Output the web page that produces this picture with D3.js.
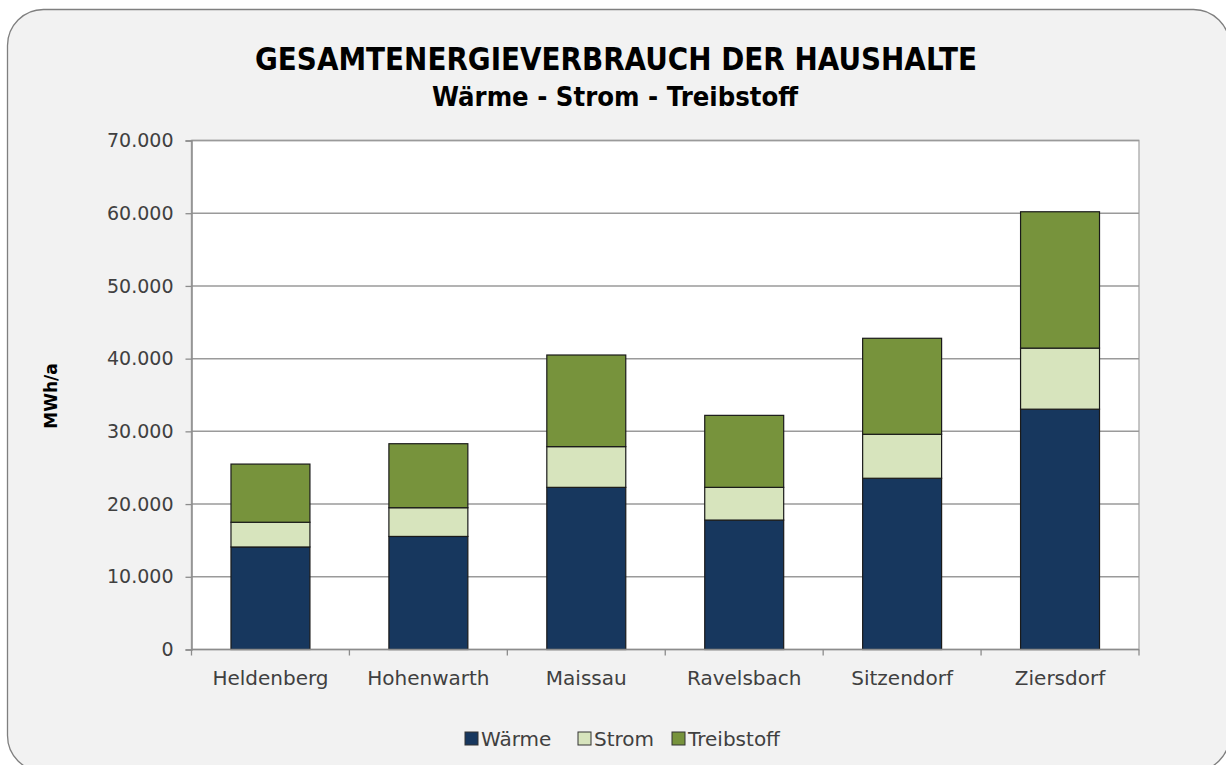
<!DOCTYPE html>
<html>
<head>
<meta charset="utf-8">
<script src="https://cdn.jsdelivr.net/npm/d3@7"></script>
<style>
  body { margin: 0; background: #ffffff; }
  text { font-family: "DejaVu Sans", sans-serif; }
</style>
</head>
<body>
<div id="chart"></div>
<script>
// data (MWh/a)
const gemeinden = ["Heldenberg", "Hohenwarth", "Maissau", "Ravelsbach", "Sitzendorf", "Ziersdorf"];
const waerme     = [14100, 15550, 22300, 17800, 23550, 33050];
const strom      = [3400, 3950, 5600, 4500, 6050, 8400];
const treibstoff = [8000, 8800, 12600, 9900, 13200, 18750];
const serien = ["Wärme", "Strom", "Treibstoff"];
const farben = ["#17375e", "#d7e4bd", "#77933c"];
const yTicks = [0, 10000, 20000, 30000, 40000, 50000, 60000, 70000];

const W = 1226, H = 765;
const margin = { left: 191.5, right: 87, top: 140.5, bottom: 115.5 };

const rows = gemeinden.map(function(g, i) {
  return { name: g, "Wärme": waerme[i], "Strom": strom[i], "Treibstoff": treibstoff[i] };
});

const svg = d3.select("#chart").append("svg")
  .attr("width", W)
  .attr("height", H);

// outer rounded frame
svg.append("rect")
  .attr("x", 7.5).attr("y", 9.5)
  .attr("width", 1222).attr("height", 762)
  .attr("rx", 36).attr("ry", 36)
  .attr("fill", "#f2f2f2")
  .attr("stroke", "#7f7f7f")
  .attr("stroke-width", 1.3);

const x = d3.scaleBand()
  .domain(gemeinden)
  .range([margin.left, W - margin.right])
  .paddingInner(0.5)
  .paddingOuter(0.25);

const y = d3.scaleLinear()
  .domain([0, 70000])
  .range([H - margin.bottom - 0.5 + 0.5, margin.top]);

// plot area
svg.append("rect")
  .attr("x", margin.left).attr("y", margin.top)
  .attr("width", W - margin.right - margin.left)
  .attr("height", y(0) - margin.top)
  .attr("fill", "#ffffff")
  .attr("stroke", "#b3b3b3")
  .attr("stroke-width", 1.5);

// gridlines
svg.append("g")
  .selectAll("line")
  .data(yTicks.filter(function(d) { return d > 0; }))
  .enter().append("line")
  .attr("x1", margin.left).attr("x2", W - margin.right)
  .attr("y1", function(d) { return y(d); })
  .attr("y2", function(d) { return y(d); })
  .attr("stroke", "#9a9a9a")
  .attr("stroke-width", 1.5);

// stacked bars
const stack = d3.stack().keys(serien);
const layers = stack(rows);

svg.append("g")
  .selectAll("g")
  .data(layers)
  .enter().append("g")
  .attr("fill", function(d, i) { return farben[i]; })
  .selectAll("rect")
  .data(function(d) { return d; })
  .enter().append("rect")
  .attr("x", function(d) { return x(d.data.name); })
  .attr("width", x.bandwidth())
  .attr("y", function(d) { return y(d[1]); })
  .attr("height", function(d) { return y(d[0]) - y(d[1]); })
  .attr("stroke", "#1a1a1a")
  .attr("stroke-width", 1.2);

// y axis
const yAxis = svg.append("g")
  .attr("transform", "translate(" + margin.left + ",0)")
  .call(d3.axisLeft(y)
    .tickValues(yTicks)
    .tickSize(6)
    .tickPadding(12)
    .tickFormat(function(d) { return d3.format(",")(d).replace(/,/g, "."); }));
yAxis.select(".domain").attr("stroke", "#8c8c8c").attr("stroke-width", 1.5);
yAxis.selectAll(".tick line").attr("stroke", "#8c8c8c").attr("stroke-width", 1.3);
yAxis.selectAll(".tick text")
  .attr("fill", "#404040")
  .style("font-size", "19px")
  .style("font-family", "'DejaVu Sans', sans-serif");

// x axis: ticks at band edges
const xAxisG = svg.append("g")
  .attr("transform", "translate(0," + y(0) + ")");
xAxisG.append("line")
  .attr("x1", margin.left).attr("x2", W - margin.right)
  .attr("stroke", "#8c8c8c").attr("stroke-width", 1.5);
const step = x.step();
const edges = d3.range(gemeinden.length + 1).map(function(i) {
  return margin.left + i * (W - margin.right - margin.left) / gemeinden.length;
});
xAxisG.selectAll(".edge")
  .data(edges)
  .enter().append("line")
  .attr("class", "edge")
  .attr("x1", function(d) { return d; })
  .attr("x2", function(d) { return d; })
  .attr("y1", 0).attr("y2", 6)
  .attr("stroke", "#8c8c8c").attr("stroke-width", 1.3);
xAxisG.selectAll(".cat")
  .data(gemeinden)
  .enter().append("text")
  .attr("class", "cat")
  .attr("x", function(d) { return x(d) + x.bandwidth() / 2; })
  .attr("y", 35)
  .attr("text-anchor", "middle")
  .attr("fill", "#404040")
  .style("font-size", "20px")
  .text(function(d) { return d; });

// y axis title
svg.append("text")
  .attr("transform", "translate(57,396) rotate(-90)")
  .attr("text-anchor", "middle")
  .attr("fill", "#000")
  .style("font-size", "17px")
  .style("font-weight", "bold")
  .text("MWh/a");

// titles
svg.append("text")
  .attr("x", 616).attr("y", 70)
  .attr("text-anchor", "middle")
  .attr("textLength", 722)
  .attr("lengthAdjust", "spacingAndGlyphs")
  .style("font-size", "32px")
  .style("font-weight", "bold")
  .attr("fill", "#000")
  .text("GESAMTENERGIEVERBRAUCH DER HAUSHALTE");

svg.append("text")
  .attr("x", 615).attr("y", 106)
  .attr("text-anchor", "middle")
  .attr("textLength", 366)
  .attr("lengthAdjust", "spacingAndGlyphs")
  .style("font-size", "26px")
  .style("font-weight", "bold")
  .attr("fill", "#000")
  .text("Wärme - Strom - Treibstoff");

// legend
const legendX = [465, 578, 672];
const legend = svg.append("g")
  .selectAll("g")
  .data(serien)
  .enter().append("g")
  .attr("transform", function(d, i) { return "translate(" + legendX[i] + ",732)"; });
legend.append("rect")
  .attr("width", 13).attr("height", 13)
  .attr("fill", function(d, i) { return farben[i]; })
  .attr("stroke", "#333").attr("stroke-width", 1);
legend.append("text")
  .attr("x", 16).attr("y", 13.5)
  .attr("fill", "#404040")
  .style("font-size", "20px")
  .text(function(d) { return d; });
</script>
</body>
</html>
